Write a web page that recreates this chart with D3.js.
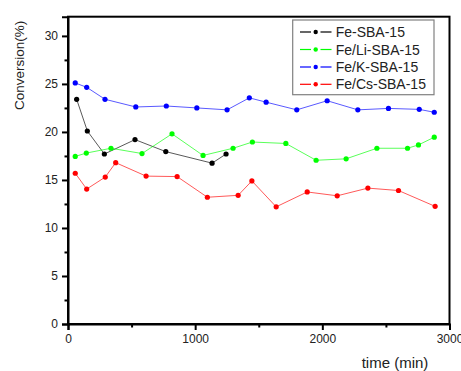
<!DOCTYPE html>
<html>
<head>
<meta charset="utf-8">
<script src="https://cdn.jsdelivr.net/npm/d3@7"></script>
<style>
  html, body { margin: 0; padding: 0; background: #fff; }
  svg { display: block; font-family: "Liberation Sans", Arial, sans-serif; }
</style>
</head>
<body>
<svg id="chart" width="461" height="371"></svg>
<script>
// Conversion over time for four catalysts
const seriesNames = ["Fe-SBA-15", "Fe/Li-SBA-15", "Fe/K-SBA-15", "Fe/Cs-SBA-15"];
const seriesColors = ["#000000", "#00ff00", "#0000ff", "#ff0000"];

const feTime = [68, 152, 286, 527, 769, 1133, 1243];
const feConv = [23.4, 20.1, 17.7, 19.2, 17.95, 16.75, 17.7];

const liTime = [57, 144, 338, 582, 818, 1062, 1298, 1450, 1713, 1951, 2187, 2429, 2670, 2756, 2880];
const liConv = [17.45, 17.8, 18.3, 17.75, 19.8, 17.55, 18.3, 18.95, 18.8, 17.05, 17.2, 18.3, 18.3, 18.65, 19.45];

const kTime = [57, 147, 291, 533, 773, 1013, 1251, 1426, 1558, 1799, 2038, 2279, 2520, 2762, 2880];
const kConv = [25.1, 24.65, 23.4, 22.6, 22.7, 22.5, 22.3, 23.55, 23.1, 22.3, 23.25, 22.3, 22.45, 22.35, 22.05];

const csTime = [57, 147, 293, 375, 614, 858, 1096, 1338, 1446, 1637, 1881, 2117, 2358, 2599, 2887];
const csConv = [15.7, 14.05, 15.3, 16.8, 15.4, 15.35, 13.2, 13.4, 14.9, 12.2, 13.75, 13.35, 14.15, 13.9, 12.25];

const xTicks = [0, 1000, 2000, 3000];
const xMinorTicks = [500, 1500, 2500];
const yTicks = [0, 5, 10, 15, 20, 25, 30];
const yMinorTicks = [2.5, 7.5, 12.5, 17.5, 22.5, 27.5];

const xLabel = "time (min)";
const yLabel = "Conversion(%)";

const series = [
  { name: seriesNames[0], color: seriesColors[0], t: feTime, v: feConv },
  { name: seriesNames[1], color: seriesColors[1], t: liTime, v: liConv },
  { name: seriesNames[2], color: seriesColors[2], t: kTime, v: kConv },
  { name: seriesNames[3], color: seriesColors[3], t: csTime, v: csConv }
];

const svg = d3.select("#chart");
const plotLeft = 68, plotRight = 449.5, plotTop = 16.7, plotBottom = 324;

const x = d3.scaleLinear().domain([0, 3000]).range([plotLeft, plotRight]);
const y = d3.scaleLinear().domain([0, 32]).range([plotBottom, plotTop]);

// Frame (top and right edges)
svg.append("rect")
  .attr("x", plotLeft).attr("y", plotTop)
  .attr("width", plotRight - plotLeft).attr("height", plotBottom - plotTop)
  .attr("fill", "none").attr("stroke", "#000").attr("stroke-width", 2);

// X axis: major ticks with labels, minor ticks without
const xAxis = svg.append("g").attr("transform", `translate(0,${plotBottom})`)
  .call(d3.axisBottom(x).tickValues(xTicks).tickSize(6).tickPadding(4).tickFormat(d3.format("d")));
xAxis.select(".domain").attr("stroke-width", 2);
xAxis.selectAll(".tick line").attr("stroke-width", 2);
xAxis.selectAll(".tick text").attr("font-size", 12).attr("fill", "#222")
  .attr("font-family", "Liberation Sans, Arial, sans-serif");

const xMinor = svg.append("g").attr("transform", `translate(0,${plotBottom})`)
  .call(d3.axisBottom(x).tickValues(xMinorTicks).tickSize(3.5).tickFormat(""));
xMinor.select(".domain").remove();
xMinor.selectAll(".tick line").attr("stroke-width", 2);

// Y axis
const yAxis = svg.append("g").attr("transform", `translate(${plotLeft},0)`)
  .call(d3.axisLeft(y).tickValues(yTicks).tickSize(6).tickPadding(4).tickFormat(d3.format("d")));
yAxis.select(".domain").attr("stroke-width", 2);
yAxis.selectAll(".tick line").attr("stroke-width", 2);
yAxis.selectAll(".tick text").attr("font-size", 12).attr("fill", "#222")
  .attr("font-family", "Liberation Sans, Arial, sans-serif");

const yMinor = svg.append("g").attr("transform", `translate(${plotLeft},0)`)
  .call(d3.axisLeft(y).tickValues(yMinorTicks).tickSize(3.5).tickFormat(""));
yMinor.select(".domain").remove();
yMinor.selectAll(".tick line").attr("stroke-width", 2);

// Axis titles
svg.append("text")
  .attr("x", 395).attr("y", 368)
  .attr("text-anchor", "middle")
  .attr("font-size", 15).attr("fill", "#222")
  .text(xLabel);

svg.append("text")
  .attr("transform", `translate(24,${(20.7 + 110) / 2}) rotate(-90)`)
  .attr("text-anchor", "middle")
  .attr("font-size", 13.5).attr("fill", "#222")
  .text(yLabel);

// Series lines and markers
const line = d3.line().x(d => x(d[0])).y(d => y(d[1]));
series.forEach(s => {
  const pts = s.t.map((t, i) => [t, s.v[i]]);
  svg.append("path")
    .datum(pts)
    .attr("d", line)
    .attr("fill", "none")
    .attr("stroke", s.color)
    .attr("stroke-opacity", 0.65)
    .attr("stroke-width", 1);
  svg.append("g").selectAll("circle")
    .data(pts).join("circle")
    .attr("cx", d => x(d[0])).attr("cy", d => y(d[1]))
    .attr("r", 2.6)
    .attr("fill", s.color);
});

// Legend
const lg = svg.append("g");
lg.append("rect")
  .attr("x", 292.7).attr("y", 20)
  .attr("width", 141.3).attr("height", 74.7)
  .attr("fill", "#fff").attr("stroke", "#808080").attr("stroke-width", 1.2);

const rowY = [32, 49.5, 67, 84.3];
series.forEach((s, i) => {
  const g = lg.append("g").attr("transform", `translate(0,${rowY[i]})`);
  g.append("line").attr("x1", 300).attr("x2", 311).attr("y1", 0).attr("y2", 0)
    .attr("stroke", s.color).attr("stroke-width", 1.2);
  g.append("line").attr("x1", 320.5).attr("x2", 331.5).attr("y1", 0).attr("y2", 0)
    .attr("stroke", s.color).attr("stroke-width", 1.2);
  g.append("circle").attr("cx", 315.7).attr("cy", 0).attr("r", 2.2).attr("fill", s.color);
  g.append("text").attr("x", 335.7).attr("y", 5)
    .attr("font-size", 14).attr("fill", "#222")
    .text(s.name);
});
</script>
</body>
</html>
